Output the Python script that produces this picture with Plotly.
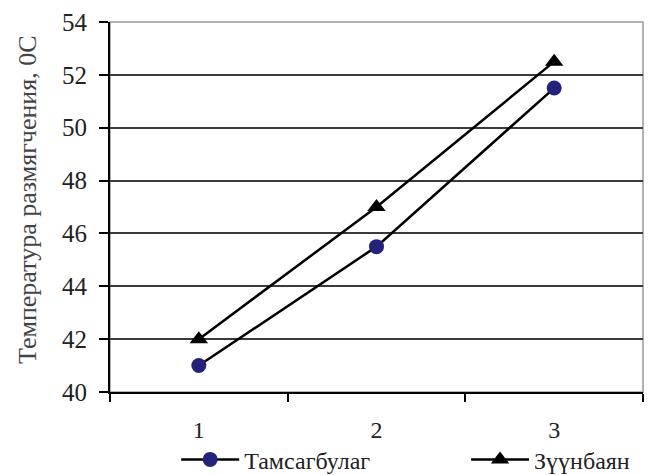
import plotly.graph_objects as go

categories = ["1", "2", "3"]
tamsag = [41, 45.5, 51.5]
zuun = [42, 47, 52.5]
series_names = ["Тамсагбулаг", "Зүүнбаян"]
y_title = "Температура размягчения, 0С"

FONT = "Liberation Serif, Times New Roman, serif"

fig = go.Figure()
fig.add_trace(go.Scatter(
    x=categories, y=tamsag, name=series_names[0], mode="lines+markers",
    line=dict(color="black", width=2.5),
    marker=dict(symbol="circle", size=15, color="#23237a", line=dict(width=0)),
    legend="legend",
))
fig.add_trace(go.Scatter(
    x=categories, y=zuun, name=series_names[1], mode="lines+markers",
    line=dict(color="black", width=2.5),
    marker=dict(symbol="triangle-up", size=16, color="black", line=dict(width=0)),
    legend="legend2",
))

fig.add_shape(type="rect", xref="paper", yref="paper", x0=0, x1=1, y0=0, y1=1,
              line=dict(color="#9a9a9a", width=1.5), layer="below")

# y-axis title as rotated text left of the axis
fig.add_annotation(text=y_title, xref="paper", yref="paper", x=-0.155, y=0.52,
                   xanchor="center", yanchor="middle", textangle=-90, showarrow=False,
                   font=dict(family=FONT, size=26, color="#444"))

leg_common = dict(xref="container", yref="container", y=0.032, xanchor="left",
                  yanchor="middle", font=dict(family=FONT, size=24, color="#222"),
                  itemwidth=58, bgcolor="rgba(0,0,0,0)")

fig.update_layout(
    width=650, height=475,
    margin=dict(l=110, r=7, t=22, b=83, autoexpand=False),
    paper_bgcolor="white", plot_bgcolor="white",
    font=dict(family=FONT, color="#222", size=20),
    showlegend=True,
    legend=dict(x=0.271, **leg_common),
    legend2=dict(x=0.717, **leg_common),
    xaxis=dict(type="category", range=[-0.5, 2.5], tickson="boundaries",
               ticks="outside", ticklen=8, tickwidth=1.5, tickcolor="black",
               showline=True, linecolor="black", linewidth=2,
               showgrid=False, ticklabelstandoff=15, automargin=False,
               tickfont=dict(family=FONT, size=24, color="#222")),
    yaxis=dict(range=[40, 54], dtick=2, ticks="outside", ticklen=9, tickwidth=1.5,
               tickcolor="black", showline=True, linecolor="black", linewidth=2,
               showgrid=True, gridcolor="#3a3a3a", gridwidth=1.5,
               zeroline=False, automargin=False, ticklabelstandoff=7,
               tickfont=dict(family=FONT, size=25, color="#222")),
)

fig.write_html("out.html", config={"responsive": False, "displayModeBar": False},
               post_script="document.body.style.margin='0';document.body.style.padding='0';")
